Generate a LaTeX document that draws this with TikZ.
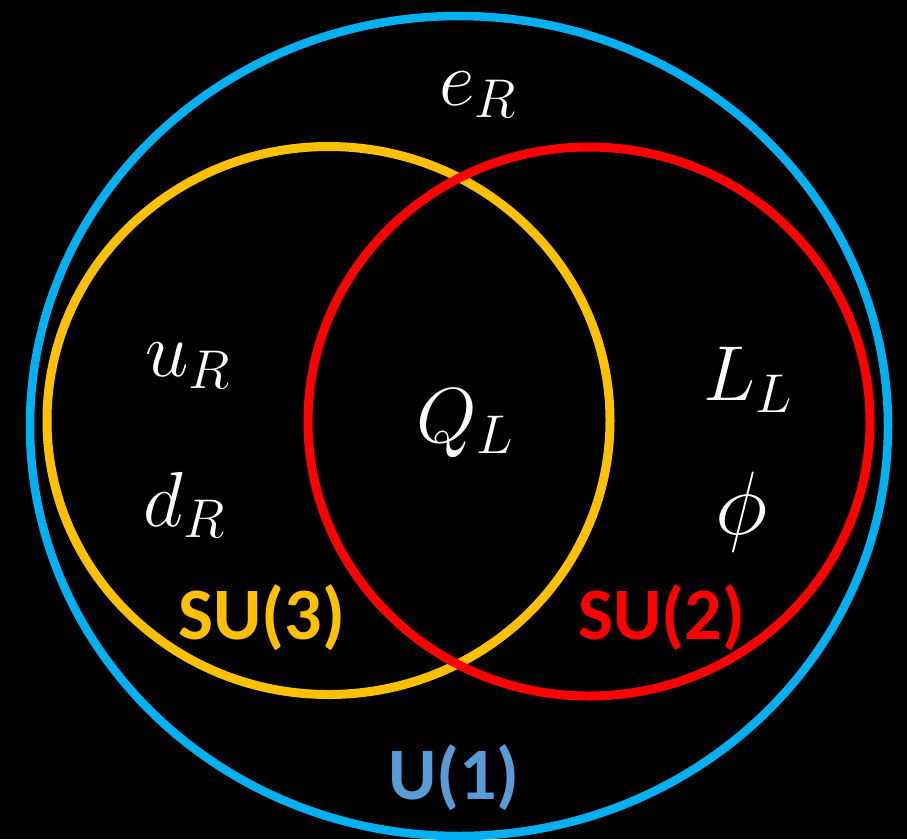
\RequirePackage{fix-cm}
\documentclass[tikz,border=0pt]{standalone}
\usepackage{fontspec}
\newfontfamily\labelfont{Carlito}
\definecolor{ublue}{HTML}{00B0F0}
\definecolor{uorange}{HTML}{FFC000}
\definecolor{ured}{HTML}{FF0000}
\definecolor{ulabel}{HTML}{5B9BD5}
\tikzset{
  ring/.style={line width=9pt},
  mathlbl/.style={text=white, inner sep=0pt, font=\fontsize{78}{86}\selectfont},
  grouplbl/.style={inner sep=0pt, font=\labelfont\bfseries\fontsize{74}{82}\selectfont},
}
\begin{document}
\begin{tikzpicture}[x=1pt,y=-1pt]
\fill[black] (0,0) rectangle (907,839);
\useasboundingbox (0,0) rectangle (907,839);
\draw[ring, ublue, line width=8.5pt] (459,426) ellipse [x radius=429, y radius=410];
\draw[ring, uorange] (328.5,420.5) ellipse [x radius=281.5, y radius=274];
\draw[ring, ured] (589,421.5) ellipse [x radius=281, y radius=274.5];
\node[mathlbl] (eR) at (478,95) {$e_R$};
\node[mathlbl] (uR) at (188,366) {$u_R$};
\node[mathlbl] (dR) at (184,505) {$d_R$};
\node[mathlbl] (QL) at (465,423) {$Q_L$};
\node[mathlbl] (LL) at (748,380) {$L_L$};
\node[mathlbl, font=\fontsize{90}{98}\selectfont] (phi) at (742,512) {$\phi$};
\node[grouplbl, text=uorange] (su3) at (262,618) {SU(3)};
\node[grouplbl, text=ured] (su2) at (662,618) {SU(2)};
\node[grouplbl, text=ulabel] (u1) at (454,778) {U(1)};
\end{tikzpicture}
\end{document}
